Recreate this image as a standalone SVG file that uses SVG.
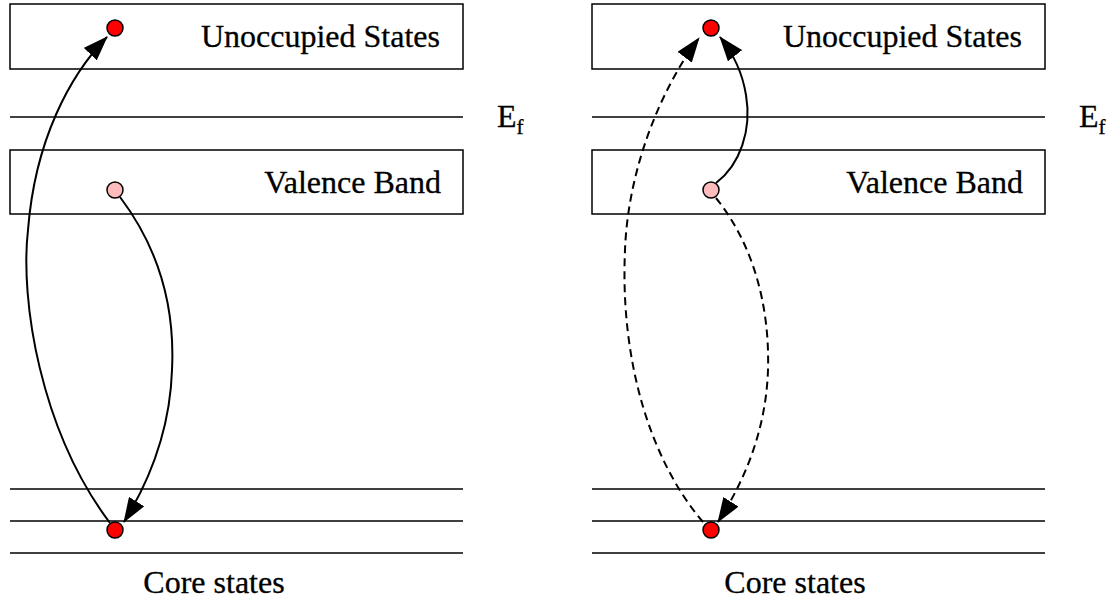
<svg xmlns="http://www.w3.org/2000/svg" width="1119" height="603" viewBox="0 0 1119 603">
<style>
.band{fill:#fff;stroke:#000;stroke-width:1.5}
.ln{stroke:#000;stroke-width:1.5;fill:none}
.lbl{font-family:"Liberation Serif","Times New Roman","DejaVu Serif",serif;font-size:32px;fill:#000;stroke:#000;stroke-width:0.3}
.c{fill:none;stroke:#000;stroke-width:2}
.d{stroke-dasharray:8,5}
.e{fill:#ff0000;stroke:#000;stroke-width:1.5}
.h{fill:#ffbcbc;stroke:#000;stroke-width:1.5}
</style>
<defs>
<marker id="ah" markerUnits="userSpaceOnUse" markerWidth="25" markerHeight="18" refX="24" refY="9" orient="auto" viewBox="0 0 25 18">
<path d="M0,0 L25,9 L0,18 Z" fill="#000"/>
</marker>
</defs>
<rect width="1119" height="603" fill="#fff"/>
<g id="left-panel">
<g id="left-unoccupied"><rect class="band" x="10" y="4" width="453" height="65"/><text class="lbl" x="440" y="47" text-anchor="end">Unoccupied States</text></g>
<g id="left-ef"><line class="ln" x1="10" y1="117" x2="463" y2="117"/><text class="lbl" x="497" y="127">E<tspan font-size="21" dy="7">f</tspan></text></g>
<g id="left-valence"><rect class="band" x="10" y="150" width="453" height="64"/><text class="lbl" x="441" y="193" text-anchor="end">Valence Band</text></g>
<g id="left-core"><line class="ln" x1="10" y1="489" x2="463" y2="489"/><line class="ln" x1="10" y1="521" x2="463" y2="521"/><line class="ln" x1="10" y1="553" x2="463" y2="553"/><text class="lbl" x="214" y="593" text-anchor="middle">Core states</text></g>
</g>
<g id="right-panel">
<g id="right-unoccupied"><rect class="band" x="592" y="4" width="453" height="65"/><text class="lbl" x="1022" y="47" text-anchor="end">Unoccupied States</text></g>
<g id="right-ef"><line class="ln" x1="592" y1="117" x2="1045" y2="117"/><text class="lbl" x="1079" y="127">E<tspan font-size="21" dy="7">f</tspan></text></g>
<g id="right-valence"><rect class="band" x="592" y="150" width="453" height="64"/><text class="lbl" x="1023" y="193" text-anchor="end">Valence Band</text></g>
<g id="right-core"><line class="ln" x1="592" y1="489" x2="1045" y2="489"/><line class="ln" x1="592" y1="521" x2="1045" y2="521"/><line class="ln" x1="592" y1="553" x2="1045" y2="553"/><text class="lbl" x="795" y="593" text-anchor="middle">Core states</text></g>
</g>
<g id="connectors">
<path class="c" d="M110,523 C40,430 20,300 28,230 C35,140 70,75 107,37" marker-end="url(#ah)"/>
<path class="c" d="M120,197 C160,250 175,310 172,370 C170,430 150,480 124,522" marker-end="url(#ah)"/>
<path class="c" d="M716,183 C740,165 752,130 746,95 C742,70 732,52 720,37" marker-end="url(#ah)"/>
<path class="c d" d="M703,522 C650,460 620,360 625,250 C628,170 660,90 699,38" marker-end="url(#ah)"/>
<path class="c d" d="M716,198 C750,240 770,300 768,370 C766,430 745,480 718,522" marker-end="url(#ah)"/>
</g>
<g id="electrons">
<circle id="l-top" class="e" cx="115" cy="28" r="8"/>
<circle id="l-val" class="h" cx="115" cy="190" r="8"/>
<circle id="l-core" class="e" cx="115" cy="530" r="8"/>
<circle id="r-top" class="e" cx="711" cy="28" r="8"/>
<circle id="r-val" class="h" cx="711" cy="190" r="8"/>
<circle id="r-core" class="e" cx="711" cy="530" r="8"/>
</g>
</svg>
